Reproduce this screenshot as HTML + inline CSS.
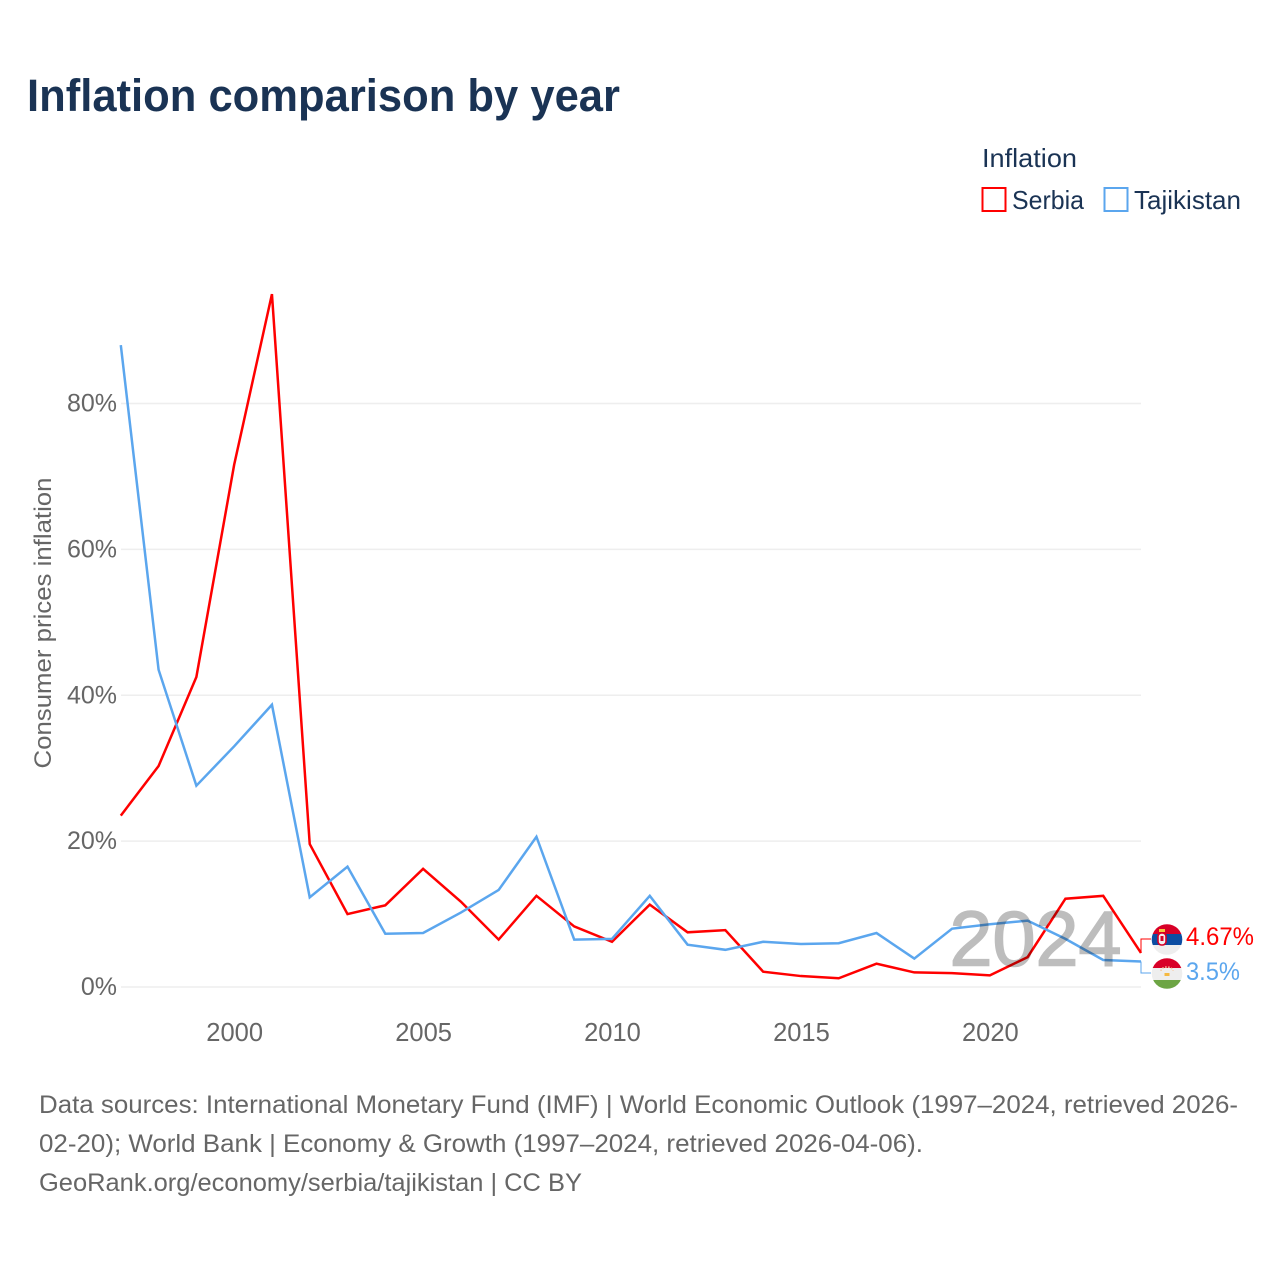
<!DOCTYPE html>
<html>
<head>
<meta charset="utf-8">
<style>
html,body{margin:0;padding:0;background:#fff;}
svg{display:block;}
text{font-family:"Liberation Sans",sans-serif;}
</style>
</head>
<body>
<svg id="chart" width="1280" height="1280" viewBox="0 0 1280 1280" xmlns="http://www.w3.org/2000/svg">
  <rect x="0" y="0" width="1280" height="1280" fill="#fff"/>
  <text x="27" y="111" font-size="45" font-weight="bold" fill="#1a3354" textLength="593" lengthAdjust="spacingAndGlyphs">Inflation comparison by year</text>

  <g>
    <text x="982" y="167" font-size="26" fill="#1a3354" textLength="95" lengthAdjust="spacingAndGlyphs">Inflation</text>
    <rect x="982.5" y="188" width="23" height="23" fill="none" stroke="#ff0000" stroke-width="2"/>
    <text x="1012" y="209" font-size="26" fill="#1a3354" textLength="72" lengthAdjust="spacingAndGlyphs">Serbia</text>
    <rect x="1104.5" y="188" width="23" height="23" fill="none" stroke="#5ba6ee" stroke-width="2"/>
    <text x="1134" y="209" font-size="26" fill="#1a3354" textLength="107" lengthAdjust="spacingAndGlyphs">Tajikistan</text>
  </g>

  <g id="grid"></g>
  <g id="yticks"></g>
  <g id="xticks"></g>
  <text transform="translate(51,623) rotate(-90)" text-anchor="middle" font-size="24.5" fill="#666" textLength="291" lengthAdjust="spacingAndGlyphs">Consumer prices inflation</text>

  <g id="series"></g>
  <text x="1035.5" y="965.5" text-anchor="middle" font-size="78" fill="#bdbdbd" stroke="#bdbdbd" stroke-width="1.6" style="mix-blend-mode:multiply" textLength="172" lengthAdjust="spacingAndGlyphs">2024</text>

  <g id="connectors"></g>

  <defs>
    <clipPath id="clip-rs"><circle cx="1167" cy="939.5" r="15.3"/></clipPath>
    <clipPath id="clip-tj"><circle cx="1167" cy="973.5" r="15.3"/></clipPath>
  </defs>
  <g clip-path="url(#clip-rs)">
    <rect x="1151" y="923" width="32" height="11" fill="#d80027"/>
    <rect x="1151" y="934" width="32" height="11" fill="#0c4da2"/>
    <rect x="1151" y="945" width="32" height="11" fill="#eeeeee"/>
    <rect x="1158" y="933" width="8" height="12" rx="3.5" fill="#f2f2f2" stroke="#d80027" stroke-width="1.6"/>
    <rect x="1159" y="929" width="6" height="3" fill="#f5c842"/>
    <rect x="1160.5" y="936" width="3" height="5" fill="#d80027"/>
  </g>
  <g clip-path="url(#clip-tj)">
    <rect x="1151" y="957" width="32" height="11" fill="#d80027"/>
    <rect x="1151" y="968" width="32" height="12" fill="#eeeeee"/>
    <rect x="1151" y="980" width="32" height="10" fill="#6da544"/>
    <path d="M1161 971a6 4 0 0 1 12 0" fill="none" stroke="#f6c9a0" stroke-width="1.5" stroke-dasharray="1.5 1.5"/>
    <rect x="1164.5" y="973" width="5" height="3" fill="#f5b942"/>
  </g>
  <text x="1186" y="945" font-size="25" fill="#ff0000" textLength="68" lengthAdjust="spacingAndGlyphs">4.67%</text>
  <text x="1186" y="980" font-size="25" fill="#5ba6ee" textLength="54" lengthAdjust="spacingAndGlyphs">3.5%</text>

  <g font-size="25" fill="#666">
    <text x="39" y="1113" textLength="1199" lengthAdjust="spacingAndGlyphs">Data sources: International Monetary Fund (IMF) | World Economic Outlook (1997–2024, retrieved 2026-</text>
    <text x="39" y="1152" textLength="884" lengthAdjust="spacingAndGlyphs">02-20); World Bank | Economy &amp; Growth (1997–2024, retrieved 2026-04-06).</text>
    <text x="39" y="1191" textLength="543" lengthAdjust="spacingAndGlyphs">GeoRank.org/economy/serbia/tajikistan | CC BY</text>
  </g>
</svg>
<script>
const years = [1997,1998,1999,2000,2001,2002,2003,2004,2005,2006,2007,2008,2009,2010,2011,2012,2013,2014,2015,2016,2017,2018,2019,2020,2021,2022,2023,2024];
const serbiaValues = [23.5,30.3,42.5,71.6,95.0,19.6,10.0,11.2,16.2,11.7,6.5,12.5,8.3,6.2,11.3,7.5,7.8,2.1,1.5,1.2,3.2,2.0,1.9,1.6,4.1,12.1,12.5,4.67];
const tajikistanValues = [88.0,43.5,27.6,33.0,38.7,12.3,16.5,7.3,7.4,10.2,13.3,20.6,6.5,6.6,12.5,5.8,5.1,6.2,5.9,6.0,7.4,3.9,8.0,8.6,9.1,6.6,3.7,3.5];
const yTickValues = [0,20,40,60,80];
const yTickLabels = ['0%','20%','40%','60%','80%'];
const xTickValues = [2000,2005,2010,2015,2020];
const xTickLabels = ['2000','2005','2010','2015','2020'];

const NS = 'http://www.w3.org/2000/svg';
function xScale(year){ return 120.8 + (year - 1997) * (1141 - 120.8) / (2024 - 1997); }
function yScale(value){ return 987 - value * (987 - 403.5) / 80; }
function make(tag, attrs, parent){
  const el = document.createElementNS(NS, tag);
  for (const k in attrs) el.setAttribute(k, attrs[k]);
  parent.appendChild(el);
  return el;
}

const grid = document.getElementById('grid');
const yticks = document.getElementById('yticks');
yTickValues.forEach(function(v, i){
  const line = make('line', {x1:121, x2:1141, y1:yScale(v), y2:yScale(v), stroke:'#eeeeee', 'stroke-width':1.5}, grid);
  
  
  const t = make('text', {x:117, y:yScale(v)+8, 'text-anchor':'end', 'font-size':25, fill:'#666'}, yticks);
  
  
  t.textContent = yTickLabels[i];
});

const xticks = document.getElementById('xticks');
xTickValues.forEach(function(v, i){
  const t = make('text', {x:xScale(v)+0.5, y:1041, 'text-anchor':'middle', 'font-size':25.5, fill:'#666'}, xticks);
  
  
  t.textContent = xTickLabels[i];
});

function pathFor(vals){
  return vals.map(function(v, i){ return xScale(years[i]).toFixed(2) + ',' + yScale(v).toFixed(2); }).join(' ');
}
const series = document.getElementById('series');
const serbiaLine = make('polyline', {points:pathFor(serbiaValues), fill:'none', stroke:'#ff0000', 'stroke-width':2.5, 'stroke-linejoin':'miter'}, series);


const tajikLine = make('polyline', {points:pathFor(tajikistanValues), fill:'none', stroke:'#5ba6ee', 'stroke-width':2.5, 'stroke-linejoin':'miter'}, series);



const connectors = document.getElementById('connectors');
const lastX = xScale(years[years.length-1]);
const c1 = make('polyline', {points:lastX+','+yScale(serbiaValues[serbiaValues.length-1])+' '+lastX+',939 1151,939', fill:'none', stroke:'#ff0000', 'stroke-width':1}, connectors);


const c2 = make('polyline', {points:lastX+','+yScale(tajikistanValues[tajikistanValues.length-1])+' '+lastX+',973 1151,973', fill:'none', stroke:'#5ba6ee', 'stroke-width':1}, connectors);


</script>
</body>
</html>
